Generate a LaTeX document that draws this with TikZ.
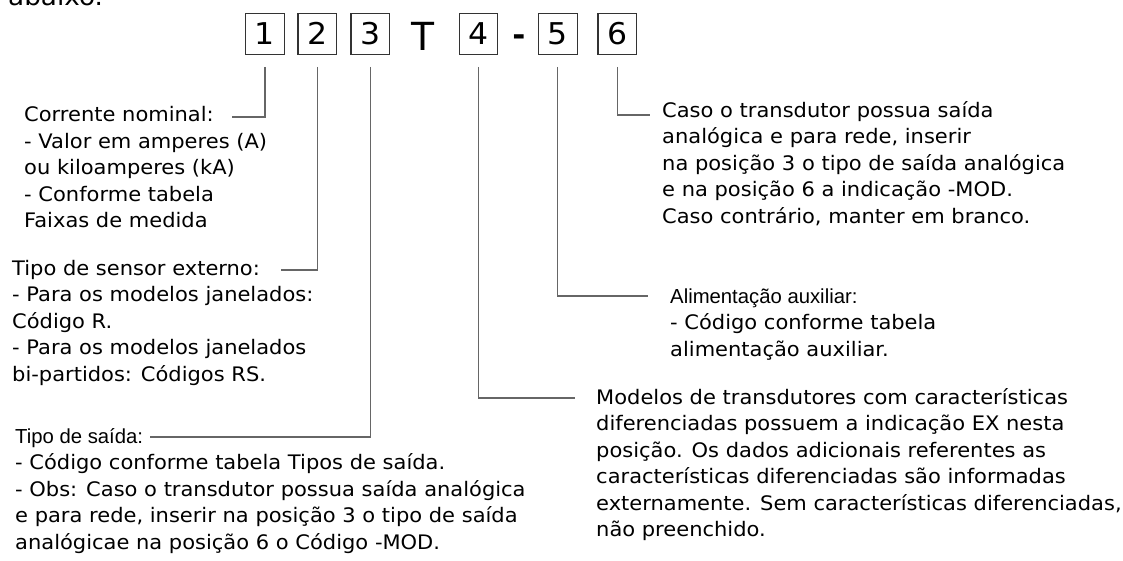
\documentclass[tikz,border=0pt]{standalone}
\usepackage{fontspec}
\setmainfont{DejaVu Sans}[FakeStretch=1.05]
\newfontfamily\arialfont{Liberation Sans}
\usetikzlibrary{positioning}
\colorlet{lineGray}{black!60}
\tikzset{
  digitbox/.style={draw=black!80, line width=1.1pt, minimum width=38.5pt, minimum height=41pt, inner sep=0pt, font=\fontsize{30}{30}\selectfont},
  conn/.style={draw=lineGray, line width=1.3pt},
  desc/.style={anchor=base west, align=left, inner sep=0pt, font=\fontsize{20}{26.5}\selectfont},
}
\newcommand{\headfont}{\arialfont\fontsize{20.3}{26.5}\selectfont}

\begin{document}
\begin{tikzpicture}[x=1pt,y=-1pt]
    \useasboundingbox (0,0) rectangle (1123,560);
    \node[anchor=base west, inner sep=0pt, font=\fontsize{25}{25}\selectfont] (abaixo) at (8,5) {abaixo.};
    % code boxes
    \node[digitbox] (b1) at (265,33.8) {1};
    \node[digitbox] (b2) at (317.2,33.8) {2};
    \node[digitbox] (b3) at (370.2,33.8) {3};
    \node[anchor=base, inner sep=0pt, font=\arialfont\fontsize{41}{41}\selectfont] (nT) at (423,50) {T};
    \node[digitbox] (b4) at (478.5,33.8) {4};
    \node[anchor=base, inner sep=0pt, font=\bfseries\fontsize{30}{30}\selectfont] (nDash) at (519,45) {-};
    \node[digitbox] (b5) at (557.8,33.8) {5};
    \node[digitbox] (b6) at (617.2,33.8) {6};
    % descriptions (anchored at the baseline of their last line)
    \node[desc] (tCorrente) at (24,227.7) {Corrente nominal:\\- Valor em amperes (A)\\ou kiloamperes (kA)\\- Conforme tabela\\Faixas de medida};
    \node[desc] (tSensor) at (12,381) {Tipo de sensor externo:\\- Para os modelos janelados:\\Código R.\\- Para os modelos janelados\\bi-partidos: Códigos RS.};
    \node[desc] (tSaida) at (15,549) {{\headfont Tipo de saída:}\\- Código conforme tabela Tipos de saída.\\- Obs: Caso o transdutor possua saída analógica\\e para rede, inserir na posição 3 o tipo de saída\\analógicae na posição 6 o Código -MOD.};
    \node[desc] (tCaso) at (662,223) {Caso o transdutor possua saída\\analógica e para rede, inserir\\na posição 3 o tipo de saída analógica\\e na posição 6 a indicação -MOD.\\Caso contrário, manter em branco.};
    \node[desc] (tAlim) at (670,356) {{\headfont Alimentação auxiliar:}\\- Código conforme tabela\\alimentação auxiliar.};
    \node[desc] (tModelos) at (596,536.5) {Modelos de transdutores com características\\diferenciadas possuem a indicação EX nesta\\posição. Os dados adicionais referentes as\\características diferenciadas são informadas\\externamente. Sem características diferenciadas,\\não preenchido.};
    % connectors
    \coordinate (e1) at (232,117);
    \coordinate (e2) at (281,270);
    \coordinate (e3) at (150,437);
    \coordinate (e4) at (575,398);
    \coordinate (e5) at (648,296);
    \coordinate (e6) at (650,115);
    \draw[conn, shorten <=12pt] (b1.south) |- (e1);
    \draw[conn, shorten <=12pt] (b2.south) |- (e2);
    \draw[conn, shorten <=12pt] (b3.south) |- (e3);
    \draw[conn, shorten <=12pt] (b4.south) |- (e4);
    \draw[conn, shorten <=12pt] (b5.south) |- (e5);
    \draw[conn, shorten <=12pt] (b6.south) |- (e6);
\end{tikzpicture}
\end{document}
